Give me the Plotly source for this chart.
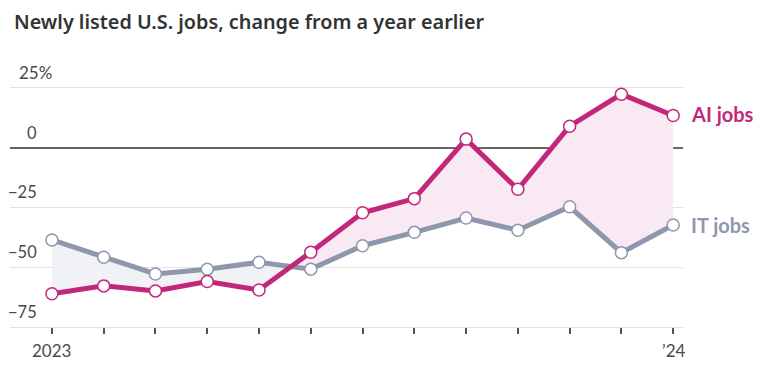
import plotly.graph_objects as go

# ---- data ----
months = ["2023-01", "2023-02", "2023-03", "2023-04", "2023-05", "2023-06", "2023-07",
          "2023-08", "2023-09", "2023-10", "2023-11", "2023-12", "2024-01"]
ai_jobs = [-61.1, -57.8, -59.9, -56.0, -59.5, -43.7, -27.2, -21.3, 3.6, -17.4, 9.0, 22.4, 13.5]
it_jobs = [-38.6, -45.8, -52.8, -50.8, -47.9, -50.8, -41.0, -35.4, -29.4, -34.5, -24.7, -43.9, -32.3]
y_ticks = [25, 0, -25, -50, -75]
y_tick_labels = ["25%", "0", "\u221225", "\u221250", "\u221275"]
x_tick_labels = {0: "2023", 12: "\u201924"}

OFF = 8  # page body margin of the browser
W, H = 784 - OFF, 382 - OFF
ML, MR, MT, MB = 10 - OFF, 101, 76 - OFF, 55
PW, PH = W - ML - MR, H - MT - MB

AI_COLOR = "#c2277b"
IT_COLOR = "#8f97ad"
PINK_FILL = "#f9e9f2"
GRAY_FILL = "#f0f2f5"
FONT = "Lato"


def px_x(px):
    return (px - OFF - ML) / PW


def px_y(py):
    return (H - MB - (py - OFF)) / PH


xs = list(range(len(months)))

fig = go.Figure()

# ---- fill between the lines, split where they cross ----
nodes = []
for i in range(len(xs)):
    nodes.append((xs[i], ai_jobs[i], it_jobs[i], False))
    if i < len(xs) - 1:
        d0 = ai_jobs[i] - it_jobs[i]
        d1 = ai_jobs[i + 1] - it_jobs[i + 1]
        if d0 * d1 < 0:
            t = d0 / (d0 - d1)
            xc = xs[i] + t
            yc = ai_jobs[i] + t * (ai_jobs[i + 1] - ai_jobs[i])
            nodes.append((xc, yc, yc, True))

runs = []
cur = []
for n in nodes:
    cur.append(n)
    if n[3]:
        runs.append(cur)
        cur = [n]
runs.append(cur)

for run in runs:
    rx = [n[0] for n in run]
    ra = [n[1] for n in run]
    rb = [n[2] for n in run]
    diff = sum(a - b for a, b in zip(ra, rb))
    color = PINK_FILL if diff > 0 else GRAY_FILL
    fig.add_trace(go.Scatter(
        x=rx + rx[::-1], y=ra + rb[::-1], fill="toself", fillcolor=color,
        mode="lines", line=dict(width=0), hoverinfo="skip", showlegend=False))

# ---- lines ----
for vals, color in [(it_jobs, IT_COLOR), (ai_jobs, AI_COLOR)]:
    fig.add_trace(go.Scatter(
        x=xs, y=vals, mode="lines+markers",
        line=dict(color=color, width=5),
        marker=dict(size=12, color="white", line=dict(color=color, width=1.5)),
        cliponaxis=False, hoverinfo="skip", showlegend=False))

annotations = []
# title
annotations.append(dict(
    x=px_x(12), y=px_y(22), xref="paper", yref="paper", xanchor="left", yanchor="middle",
    text="Newly listed U.S. jobs, change from a year earlier", showarrow=False,
    font=dict(family="Noto Sans", size=19.8, weight=600, color="#333333")))

# y tick labels (above gridlines)
for v, lab in zip(y_ticks, y_tick_labels):
    if lab.endswith("%"):
        annotations.append(dict(
            x=px_x(18), y=v, xref="paper", yref="y", xanchor="left", yanchor="middle",
            yshift=15, text=lab, showarrow=False, borderpad=0,
            font=dict(family=FONT, size=17, color="#4a4a4a")))
    else:
        annotations.append(dict(
            x=px_x(38), y=v, xref="paper", yref="y", xanchor="right", yanchor="middle",
            yshift=15, text=lab, showarrow=False, borderpad=0,
            font=dict(family=FONT, size=16.5, color="#4a4a4a")))

# x tick labels
for idx, lab in x_tick_labels.items():
    annotations.append(dict(
        x=idx, y=px_y(350), xref="x", yref="paper", xanchor="center", yanchor="middle",
        text=lab, showarrow=False, font=dict(family=FONT, size=17, color="#4a4a4a")))

# series labels
annotations.append(dict(
    x=px_x(689), y=ai_jobs[-1], xref="paper", yref="y", xanchor="left", yanchor="middle",
    yshift=1, text="<b>AI jobs</b>", showarrow=False,
    font=dict(family=FONT, size=20, color=AI_COLOR)))
annotations.append(dict(
    x=px_x(689), y=it_jobs[-1], xref="paper", yref="y", xanchor="left", yanchor="middle",
    yshift=0, text="<b>IT jobs</b>", showarrow=False,
    font=dict(family=FONT, size=20, color=IT_COLOR)))

fig.update_layout(
    width=W, height=H, margin=dict(l=ML, r=MR, t=MT, b=MB, autoexpand=False),
    paper_bgcolor="white", plot_bgcolor="white",
    annotations=annotations,
    xaxis=dict(range=[-0.81, 12.19], tickvals=xs, ticktext=[""] * len(xs),
               ticks="outside", ticklen=6, tickwidth=1.5, tickcolor="#555555",
               showgrid=False, zeroline=False, showline=True, linecolor="#e3e3e3",
               linewidth=1, fixedrange=True),
    yaxis=dict(range=[-75, 30], tickvals=y_ticks, showticklabels=False,
               showgrid=True, gridcolor="#e3e3e3", gridwidth=1,
               zeroline=True, zerolinecolor="#666666", zerolinewidth=1.5,
               showline=False, fixedrange=True),
)

fig.write_html("out.html")
